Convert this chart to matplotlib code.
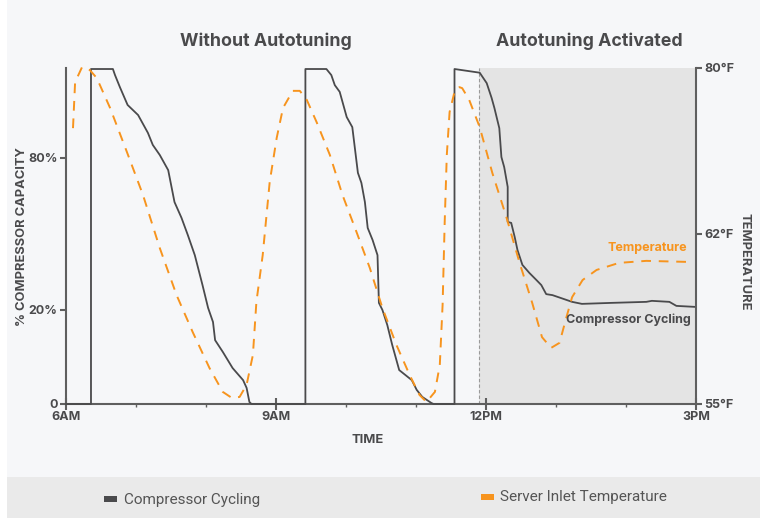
import matplotlib
matplotlib.use("Agg")
import matplotlib.pyplot as plt
from matplotlib.patches import Rectangle

# ---------------- data ----------------
# time in hours (6 = 6AM, 15 = 3PM); values in % of chart height
comp_time = [6.0, 6.357, 6.357, 6.67, 6.70, 6.77, 6.88, 7.03, 7.17, 7.24, 7.34, 7.46, 7.55, 7.65,
             7.74, 7.84, 7.95, 8.03, 8.10, 8.13, 8.24, 8.38, 8.53, 8.58, 8.62, 8.65,
             9.42, 9.42, 9.72, 9.79, 9.84, 9.91, 10.01, 10.09, 10.17, 10.22, 10.27, 10.31, 10.38,
             10.45, 10.47, 10.52, 10.59, 10.66, 10.76, 10.94, 11.01, 11.09, 11.22, 11.25,
             11.55, 11.55, 11.91, 12.01, 12.08, 12.12, 12.19, 12.22, 12.26, 12.31, 12.31, 12.36,
             12.41, 12.45, 12.52, 12.62, 12.72, 12.79, 12.86, 12.95, 13.23, 13.37, 13.80, 14.29,
             14.37, 14.62, 14.72, 14.99]
comp_value = [0, 0, 99.7, 99.7, 97.9, 94.3, 89.0, 86.0, 80.7, 77.1, 74.1, 69.6, 60.1, 55.4,
              50.3, 44.3, 35.4, 28.6, 24.4, 19.0, 15.5, 10.7, 7.1, 4.8, 0.6, 0,
              0, 99.7, 99.7, 97.9, 94.9, 92.9, 85.4, 82.4, 68.8, 65.8, 60.1, 52.4, 48.8,
              44.3, 30.1, 28.0, 23.5, 17.6, 10.1, 7.1, 4.2, 2.1, 0.3, 0,
              0, 99.7, 98.6, 95.5, 91.1, 88.1, 82.1, 73.5, 70.5, 64.6, 54.2, 53.9,
              49.7, 45.8, 41.4, 39.0, 36.9, 35.4, 32.7, 32.4, 30.4, 29.8, 30.1, 30.4,
              30.7, 30.4, 29.2, 28.9]

temp_time = [6.10, 6.13, 6.23, 6.34, 6.44, 6.63, 6.87, 7.10, 7.34, 7.58, 7.81, 8.05, 8.24, 8.37,
             8.48, 8.58, 8.67, 8.72, 8.81, 8.91, 9.01, 9.10, 9.24, 9.34, 9.44, 9.58, 9.77, 9.95,
             10.15, 10.34, 10.52, 10.72, 10.91, 11.05, 11.15, 11.27, 11.34, 11.38, 11.41, 11.44,
             11.48, 11.55, 11.62, 11.66, 11.76, 11.91, 12.09, 12.29, 12.48, 12.66, 12.80, 12.93,
             13.05, 13.15, 13.23, 13.38, 13.58, 13.90, 14.29, 14.86, 14.93]
temp_value = [82.1, 95.8, 100.3, 99.4, 97.0, 88.1, 75.0, 62.2, 46.4, 32.4, 21.4, 10.7, 3.6, 1.8,
              2.1, 5.7, 14.6, 30.4, 44.3, 66.1, 79.2, 88.1, 93.2, 93.2, 90.5, 83.9, 74.1, 62.2,
              51.2, 40.5, 28.6, 17.6, 8.6, 2.7, 0.6, 3.6, 11.6, 29.5, 54.2, 74.1,
              86.9, 92.9, 94.3, 94.0, 90.5, 82.4, 68.8, 55.7, 42.0, 30.1, 19.9, 16.7,
              18.2, 25.9, 31.8, 36.9, 39.9, 42.0, 42.6, 42.3, 43.5]

autotune_start = 11.9
time_ticks = [6, 9, 12, 15]
time_labels = ["6AM", "9AM", "12PM", "3PM"]
hour_ticks = [7, 8, 10, 11, 13, 14]
cap_tick_pos = [0, 28.1, 73.3]
cap_tick_labels = ["0", "20%", "80%"]
temp_tick_pos = [0, 50.7, 100]
temp_tick_labels = ["55°F", "62°F", "80°F"]

# ---------------- style ----------------
DARK = "#4a4a4c"
ORANGE = "#F7941E"
PANEL = "#F6F7F9"
BAND = "#EAEAEA"
SHADE = "#E4E4E4"
AXC = "#5f5f5f"
plt.rcParams['font.family'] = ['Inter', 'DejaVu Sans']

fig = plt.figure(figsize=(7.62, 5.18), dpi=100, facecolor="white")
W, H = 762, 518
fig.patches.append(Rectangle((7 / W, 41 / H), 753 / W, 1 - 41 / H, transform=fig.transFigure,
                             facecolor=PANEL, edgecolor="none", zorder=-10))
fig.patches.append(Rectangle((7 / W, 0), 753 / W, 41 / H, transform=fig.transFigure,
                             facecolor=BAND, edgecolor="none", zorder=-10))

ax = fig.add_axes([66 / W, 114 / H, 630 / W, 336 / H])
ax.set_facecolor(PANEL)
ax.set_xlim(6, 15)
ax.set_ylim(0, 100)

ax.axvspan(autotune_start, 15, color=SHADE, zorder=0, lw=0)
ax.axvline(autotune_start, color="#9a9a9a", lw=0.8, ls=(0, (3, 2)), zorder=1)

ax.plot(comp_time, comp_value, color=DARK, lw=1.3, zorder=3, clip_on=False)
ax.plot(temp_time, temp_value, color=ORANGE, lw=1.4, ls=(0, (5, 4)), zorder=4, clip_on=False)

for s in ["top", "right"]:
    ax.spines[s].set_visible(False)
for s in ["left", "bottom"]:
    ax.spines[s].set_color(AXC)
    ax.spines[s].set_linewidth(1.5)

ax.set_xticks(time_ticks)
ax.set_xticklabels(time_labels)
ax.set_xticks(hour_ticks, minor=True)
ax.set_yticks(cap_tick_pos)
ax.set_yticklabels(cap_tick_labels)
ax.tick_params(axis="x", which="major", direction="inout", length=8, width=1.5, color=AXC,
               labelsize=9, labelcolor=DARK, pad=1)
ax.tick_params(axis="x", which="minor", direction="out", length=2.5, width=1.0, color=AXC)
ax.tick_params(axis="y", direction="out", length=4, width=1.5, color=AXC,
               labelsize=9, labelcolor=DARK, pad=2)
for lab in ax.get_xticklabels() + ax.get_yticklabels():
    lab.set_fontweight("bold")

ax2 = ax.twinx()
ax2.set_ylim(0, 100)
for s in ["top", "left", "bottom"]:
    ax2.spines[s].set_visible(False)
ax2.spines["right"].set_color(AXC)
ax2.spines["right"].set_linewidth(1.5)
ax2.set_yticks(temp_tick_pos)
ax2.set_yticklabels(temp_tick_labels)
ax2.tick_params(axis="y", direction="out", length=4, width=1.5, color=AXC,
                labelsize=9, labelcolor=DARK, pad=2)
for lab in ax2.get_yticklabels():
    lab.set_fontweight("bold")

# annotations
ax.text(14.87, 46.4, "Temperature", color=ORANGE, fontsize=9, fontweight="bold",
        ha="right", va="center", zorder=5)
ax.text(14.93, 25.0, "Compressor Cycling", color=DARK, fontsize=9, fontweight="bold",
        ha="right", va="center", zorder=5)

# titles and axis labels
fig.text(266 / W, 1 - 41 / H, "Without Autotuning", color=DARK, fontsize=12.8, fontweight="bold",
         ha="center", va="center")
fig.text(589 / W, 1 - 41 / H, "Autotuning Activated", color=DARK, fontsize=12.8, fontweight="bold",
         ha="center", va="center")
fig.text(22 / W, 1 - 237 / H, "% COMPRESSOR CAPACITY", color=DARK, fontsize=9.3, fontweight="bold",
         ha="center", va="center", rotation=90)
fig.text(744 / W, 1 - 262 / H, "TEMPERATURE", color=DARK, fontsize=9.3, fontweight="bold",
         ha="center", va="center", rotation=-90)
fig.text(368 / W, 1 - 440 / H, "TIME", color=DARK, fontsize=9.3, fontweight="bold",
         ha="center", va="center")

# legend
fig.patches.append(Rectangle((104 / W, 1 - 502 / H), 13 / W, 6 / H, transform=fig.transFigure,
                             facecolor=DARK, edgecolor="none"))
fig.text(124 / W, 1 - 500 / H, "Compressor Cycling", color="#555555", fontsize=11,
         family=["Roboto", "DejaVu Sans"], ha="left", va="center")
fig.patches.append(Rectangle((481 / W, 1 - 500 / H), 13 / W, 6 / H, transform=fig.transFigure,
                             facecolor=ORANGE, edgecolor="none"))
fig.text(500 / W, 1 - 497 / H, "Server Inlet Temperature", color="#555555", fontsize=11,
         family=["Roboto", "DejaVu Sans"], ha="left", va="center")

fig.savefig("out.png", dpi=100, facecolor=fig.get_facecolor())
